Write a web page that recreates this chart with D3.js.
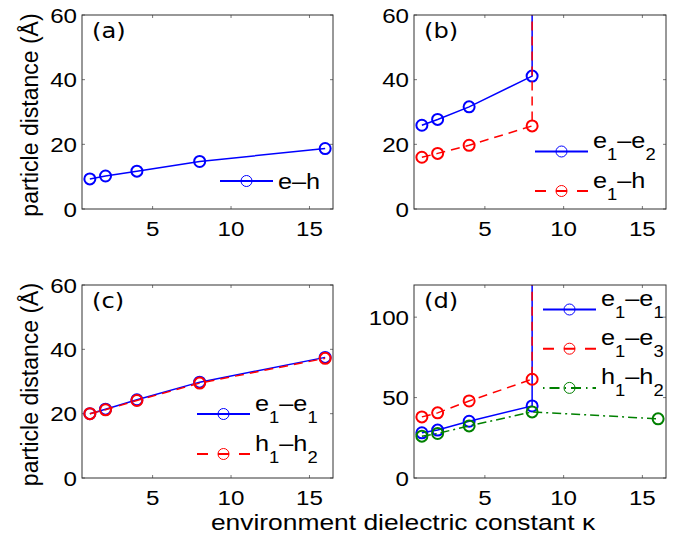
<!DOCTYPE html>
<html>
<head>
<meta charset="utf-8">
<script src="https://cdn.jsdelivr.net/npm/d3@7"></script>
<style>
  body { margin: 0; background: #fff; }
  text { font-family: "Liberation Sans", Arial, sans-serif; fill: #000; }
</style>
</head>
<body>
<svg id="chart" width="685" height="536"></svg>
<script>
// environment dielectric constant values
var kappa = [1, 2, 4, 8, 16];

// (a) exciton
var a_eh = [9.3, 10.2, 11.7, 14.7, 18.7];
// (b) trion, Infinity = particle no longer bound
var b_e1e2 = [25.9, 27.7, 31.6, 41.1, Infinity];
var b_e1h = [16, 17.2, 19.7, 25.7, Infinity];
// (c) biexciton
var c_e1e1 = [20, 21.4, 24.3, 29.8, 37.5];
var c_h1h2 = [20, 21.2, 24.1, 29.5, 37.2];
// (d)
var d_e1e1 = [28.1, 29.8, 35.3, 44.8, Infinity];
var d_e1e3 = [38, 40.5, 47.9, 61.4, Infinity];
var d_h1h2 = [26, 27.7, 32.4, 41.1, 36.8];

var xTicks = [5, 10, 15];
var yTicks60 = [0, 20, 40, 60];
var yTicks120 = [0, 50, 100];

var xDomain = [0.5, 16.5];
var WIDE = 1.15;  // horizontal stretch of the original lettering

var svg = d3.select('#chart');

var styles = {
    solid: { color: '#0000ff', dash: null, legDash: null },
    dashed: { color: '#ff0000', dash: '9,6', legDash: '11,10' },
    dashdot: { color: '#008000', dash: '9,4,2,4', legDash: '1.5,5,10,5' }
};

function wideText(g, x, y, str, size, anchor) {
    return g.append('text')
        .attr('transform', 'translate(' + x + ',' + y + ') scale(' + WIDE + ',1)')
        .attr('text-anchor', anchor || 'start')
        .style('font-size', size + 'px')
        .text(str);
}

// "e_1–e_2" -> tspans with subscripts
function labelText(g, x, y, str) {
    var t = g.append('text')
        .attr('transform', 'translate(' + x + ',' + y + ') scale(' + WIDE + ',1)')
        .style('font-size', '22px');
    var parts = str.split(/(_.)/);
    var shifted = false;
    parts.forEach(function (p) {
        if (!p) return;
        if (p[0] === '_') {
            t.append('tspan').attr('dy', 12).style('font-size', '16px').text(p[1]);
            shifted = true;
        } else {
            t.append('tspan').attr('dy', shifted ? -12 : 0).text(p);
            shifted = false;
        }
    });
    return t;
}

function panel(opt) {
    var b = opt.box;
    var g = svg.append('g');
    var x = d3.scaleLinear().domain(xDomain).range([b.x0, b.x1]);
    var y = d3.scaleLinear().domain([0, opt.yMax]).range([b.y1, b.y0]);

    var clipId = 'clip-' + opt.letter;
    svg.append('clipPath').attr('id', clipId)
        .append('rect')
        .attr('x', b.x0).attr('y', b.y0)
        .attr('width', b.x1 - b.x0).attr('height', b.y1 - b.y0);

    // ticks, inside on all four sides
    var tl = 3;
    xTicks.forEach(function (t) {
        g.append('line').attr('x1', x(t)).attr('x2', x(t)).attr('y1', b.y1).attr('y2', b.y1 - tl)
            .attr('stroke', '#555').attr('stroke-width', 0.8);
        g.append('line').attr('x1', x(t)).attr('x2', x(t)).attr('y1', b.y0).attr('y2', b.y0 + tl)
            .attr('stroke', '#555').attr('stroke-width', 0.8);
        wideText(g, x(t), b.y1 + 27, d3.format('d')(t), 21, 'middle');
    });
    opt.yTicks.forEach(function (t) {
        g.append('line').attr('x1', b.x0).attr('x2', b.x0 + tl).attr('y1', y(t)).attr('y2', y(t))
            .attr('stroke', '#555').attr('stroke-width', 0.8);
        g.append('line').attr('x1', b.x1).attr('x2', b.x1 - tl).attr('y1', y(t)).attr('y2', y(t))
            .attr('stroke', '#555').attr('stroke-width', 0.8);
        wideText(g, b.x0 - 5, y(t) + 7.5, d3.format('d')(t), 21, 'end');
    });

    // series lines
    var line = d3.line().x(function (d) { return x(d[0]); }).y(function (d) { return y(d[1]); });
    opt.series.forEach(function (s) {
        var pts = [];
        s.values.forEach(function (v, i) {
            if (isFinite(v)) pts.push([kappa[i], v]);
            else if (pts.length) pts.push([pts[pts.length - 1][0], opt.yMax]);
        });
        var st = styles[s.style];
        g.append('path')
            .attr('d', line(pts))
            .attr('clip-path', 'url(#' + clipId + ')')
            .attr('fill', 'none')
            .attr('stroke', st.color)
            .attr('stroke-width', 1.5)
            .attr('stroke-dasharray', st.dash);
        g.selectAll(null)
            .data(pts.filter(function (p, i) { return isFinite(s.values[i]); }))
            .enter().append('circle')
            .attr('cx', function (d) { return x(d[0]); })
            .attr('cy', function (d) { return y(d[1]); })
            .attr('r', 5.5)
            .attr('fill', 'none')
            .attr('stroke', st.color)
            .attr('stroke-width', 2);
    });

    // box
    g.append('rect')
        .attr('x', b.x0).attr('y', b.y0)
        .attr('width', b.x1 - b.x0).attr('height', b.y1 - b.y0)
        .attr('fill', 'none').attr('stroke', '#333').attr('stroke-width', 1);

    // panel letter
    g.append('text')
        .attr('transform', 'translate(' + (b.x0 + 10) + ',' + (b.y0 + 23) + ') scale(' + WIDE + ',1)')
        .style('font-family', '"DejaVu Sans", sans-serif')
        .style('font-size', '21px')
        .text('(' + opt.letter + ')');

    // legend
    var L = opt.legend;
    opt.series.forEach(function (s, i) {
        var st = styles[s.style];
        var ly = L.y + i * L.step;
        g.append('line')
            .attr('x1', L.x).attr('x2', L.x + 53).attr('y1', ly).attr('y2', ly)
            .attr('stroke', st.color).attr('stroke-width', 2)
            .attr('stroke-dasharray', st.legDash);
        g.append('circle')
            .attr('cx', L.x + 26.5).attr('cy', ly).attr('r', 5.5)
            .attr('fill', 'none').attr('stroke', st.color).attr('stroke-width', 1);
        var hasSub = s.label.indexOf('_') >= 0;
        labelText(g, L.x + 58, ly + (hasSub ? -3.5 : 8), s.label);
    });

    if (opt.yLabel) {
        g.append('text')
            .attr('transform', 'translate(38,' + ((b.y0 + b.y1) / 2 + 3) + ') rotate(-90)')
            .attr('text-anchor', 'middle')
            .style('font-size', '23px')
            .text('particle distance (Å)');
    }
}

panel({
    letter: 'a', box: { x0: 82, x1: 333, y0: 15, y1: 209 }, yMax: 60, yTicks: yTicks60, yLabel: true,
    series: [{ values: a_eh, style: 'solid', label: 'e–h' }],
    legend: { x: 220, y: 181, step: 40 }
});
panel({
    letter: 'b', box: { x0: 414, x1: 666, y0: 15, y1: 209 }, yMax: 60, yTicks: yTicks60,
    series: [{ values: b_e1e2, style: 'solid', label: 'e_1–e_2' },
             { values: b_e1h, style: 'dashed', label: 'e_1–h' }],
    legend: { x: 535, y: 151.5, step: 39.5 }
});
panel({
    letter: 'c', box: { x0: 82, x1: 333, y0: 285, y1: 478 }, yMax: 60, yTicks: yTicks60, yLabel: true,
    series: [{ values: c_e1e1, style: 'solid', label: 'e_1–e_1' },
             { values: c_h1h2, style: 'dashed', label: 'h_1–h_2' }],
    legend: { x: 197, y: 414, step: 40 }
});
panel({
    letter: 'd', box: { x0: 414, x1: 666, y0: 285, y1: 478 }, yMax: 120, yTicks: yTicks120,
    series: [{ values: d_e1e1, style: 'solid', label: 'e_1–e_1' },
             { values: d_e1e3, style: 'dashed', label: 'e_1–e_3' },
             { values: d_h1h2, style: 'dashdot', label: 'h_1–h_2' }],
    legend: { x: 543, y: 309.5, step: 39.2 }
});

// shared x label
svg.append('text')
    .attr('transform', 'translate(403,530) scale(1.2,1)')
    .attr('text-anchor', 'middle')
    .style('font-size', '22px')
    .text('environment dielectric constant κ');
</script>
</body>
</html>
